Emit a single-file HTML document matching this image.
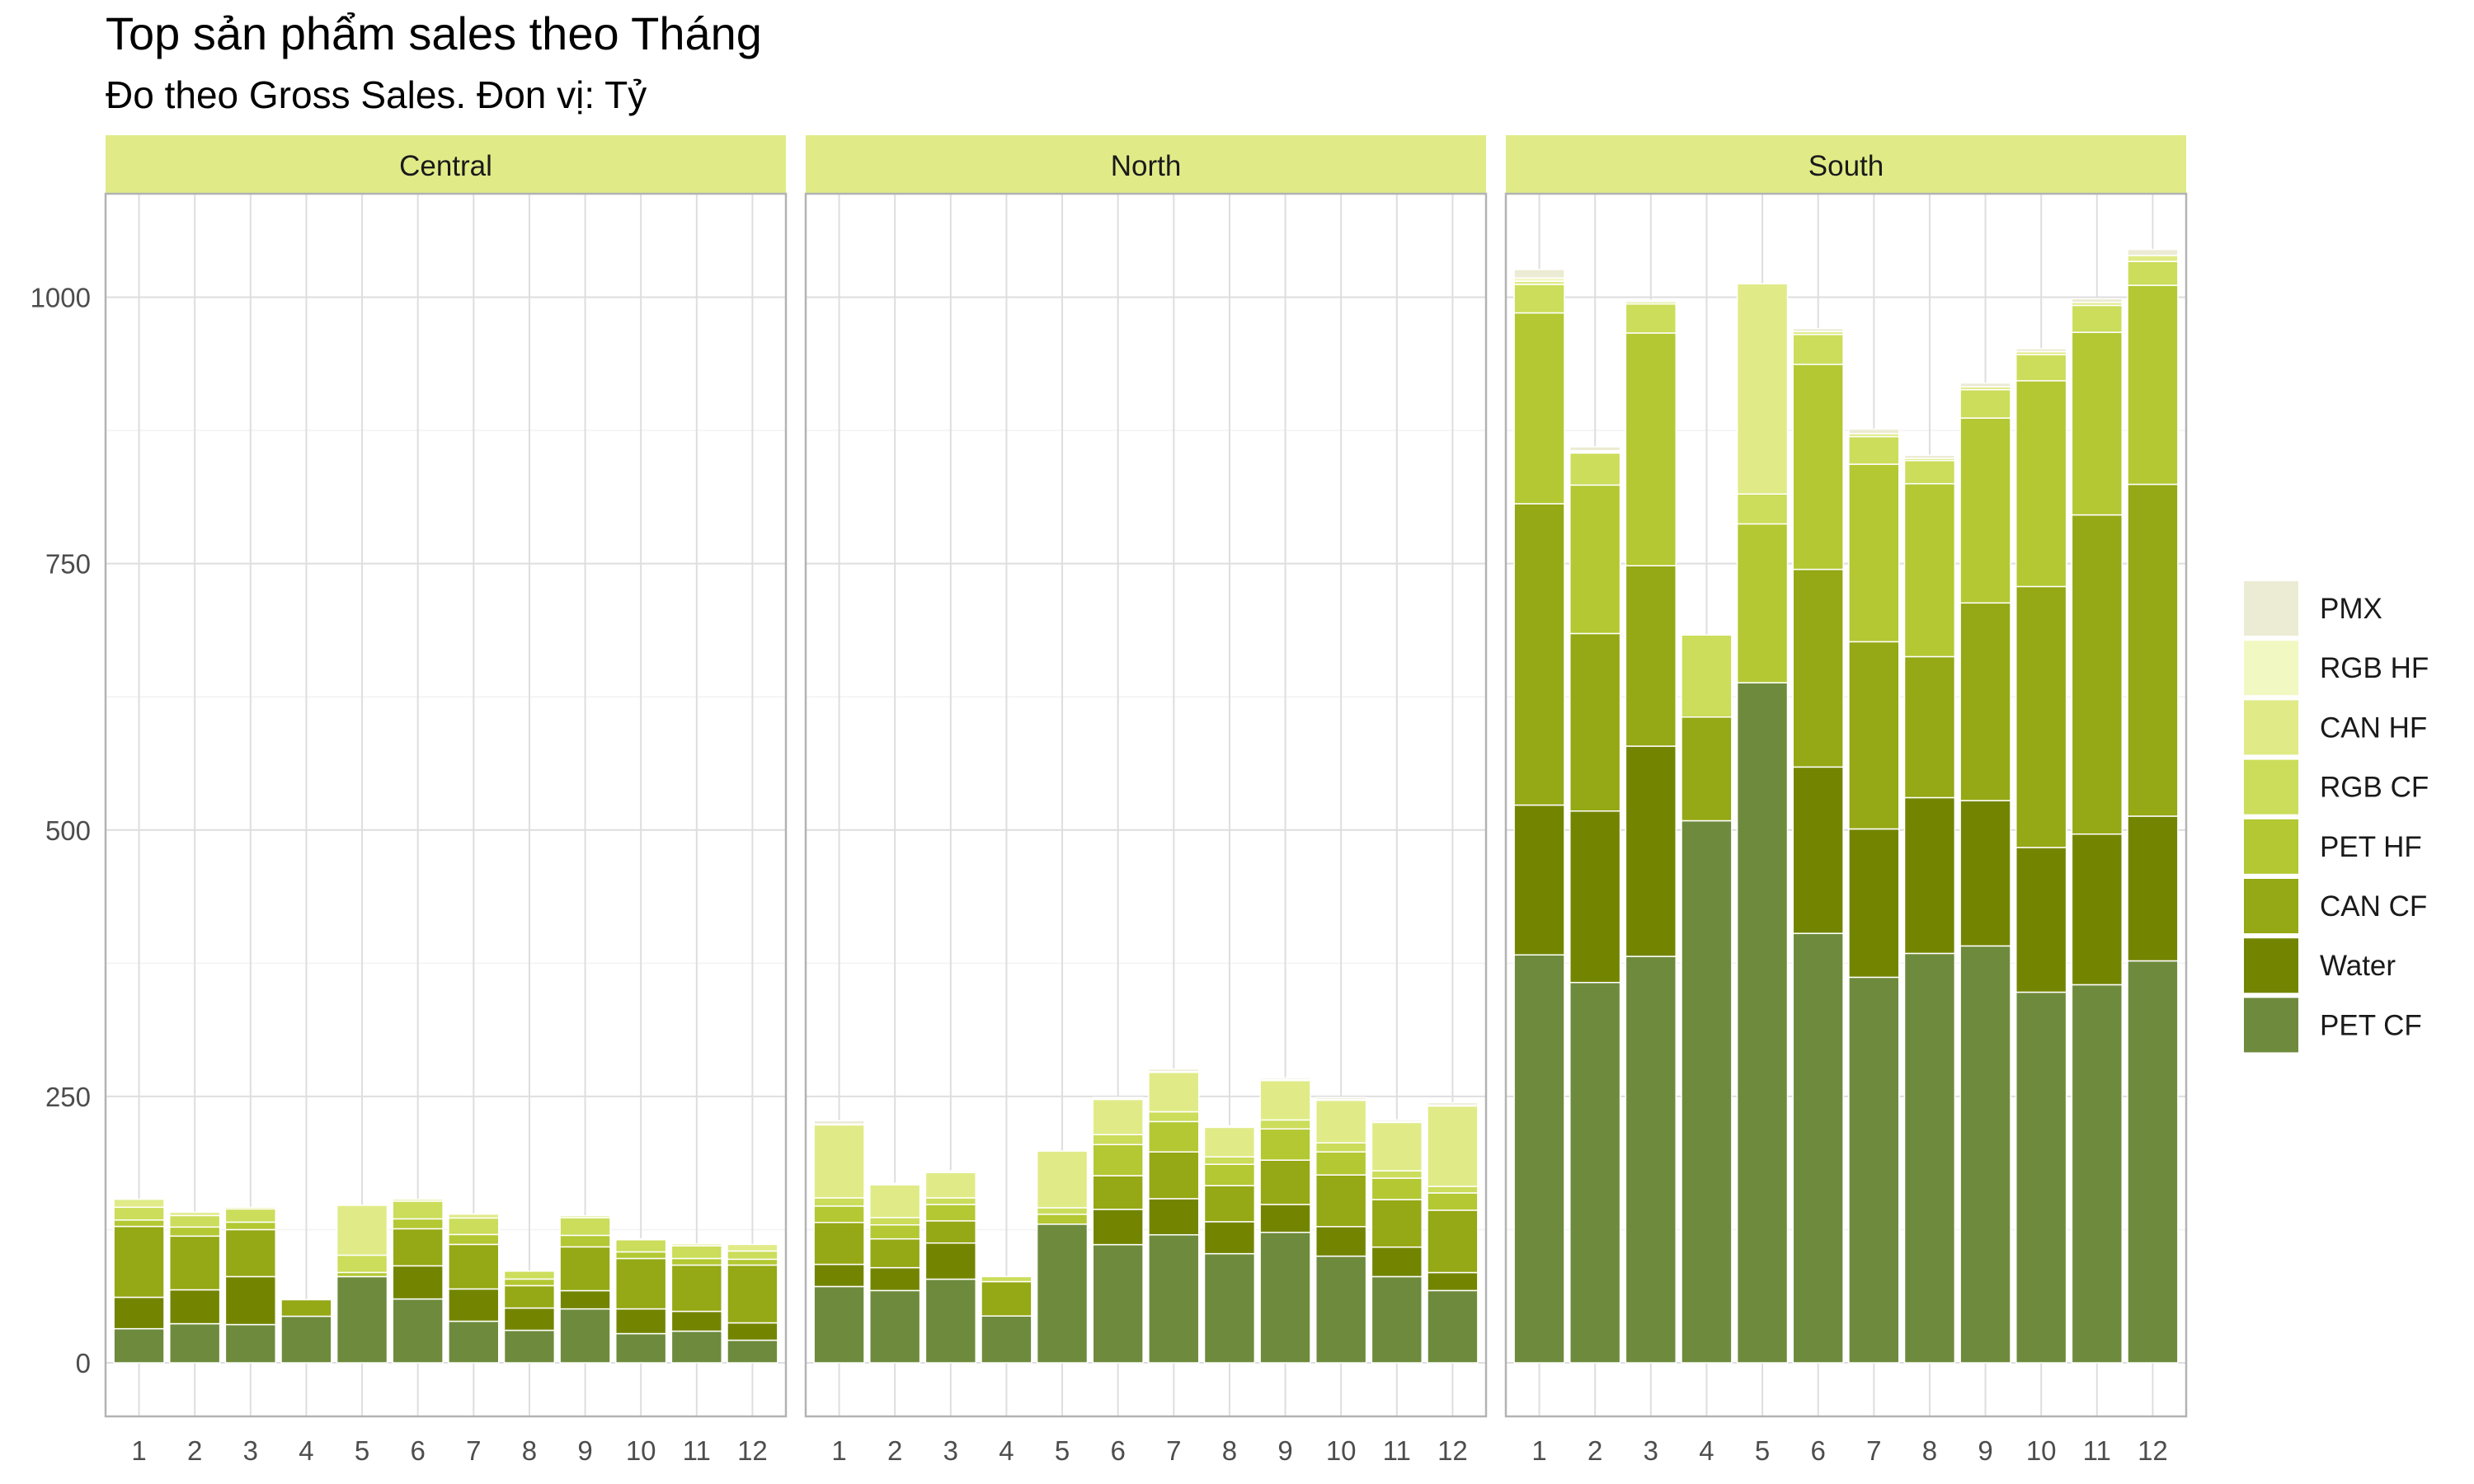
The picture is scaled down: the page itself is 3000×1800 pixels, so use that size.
<!DOCTYPE html>
<html><head><meta charset="utf-8"><style>
html,body{margin:0;padding:0;background:#fff;}
svg{display:block;font-family:"Liberation Sans","Noto Sans CJK SC",sans-serif;}
</style></head><body>
<svg id="chart" width="3000" height="1800" viewBox="0 0 3000 1800" xmlns="http://www.w3.org/2000/svg">
<text x="128" y="60" font-size="56" fill="#000">Top sản phẩm sales theo Tháng</text>
<text x="128" y="131" font-size="46" fill="#000">Đo theo Gross Sales. Đon vị: Tỷ</text>
<g id="panels"></g>
<g id="legend"></g>
</svg>
<script>
const months = ["1","2","3","4","5","6","7","8","9","10","11","12"];
const regions = ["Central","North","South"];
const seriesNames = ["PET CF","Water","CAN CF","PET HF","RGB CF","CAN HF","RGB HF","PMX"];
const yTicks = [0,250,500,750,1000];
const yMinor = [125,375,625,875];

const centralPETCF = [32,36.7,35.9,43.7,80.9,59.9,39,30.5,50.6,27.4,29.7,21.2];
const centralWater = [29.5,31.8,45,0,0,31.1,30.3,20.9,17.1,23.2,18.6,16.3];
const centralCANCF = [66.5,50.4,44.1,15.5,0,34.8,41.8,21,41.1,47.3,43.4,54.2];
const centralPETHF = [6,8.5,7,0,3.9,9.3,9.3,6.2,10.8,6.2,6.2,5.5];
const centralRGBCF = [12,10.8,12.4,0,16.2,16.6,15.5,7.4,16.6,11.4,11.9,7.7];
const centralCANHF = [7.5,3.1,1.6,0,46.8,1.8,3.6,0,1.8,0.8,1.8,6.2];
const centralRGBHF = [0,0,0,0,0,0,0,0,0,0,0,0];
const centralPMX = [0,0,0,0,0,0,0,0,0,0,0,0];

const northPETCF = [71.6,67.8,78.5,43.9,130.1,110.9,120.1,102.4,122.4,100.1,80.9,67.8];
const northWater = [20.8,21.5,33.9,0,0,33.1,33.9,30,26.2,27.7,27.7,16.9];
const northCANCF = [39.3,27,20.8,32.3,0,31.6,43.9,33.9,41.6,48.5,44.6,58.5];
const northPETHF = [15.4,13.1,15.4,0,9.3,29.2,28.5,20,29.3,21.6,20.1,16.2];
const northRGBCF = [7.7,6.9,6.2,4.7,6.1,9.3,9.2,7,8.4,8.5,6.9,6.2];
const northCANHF = [68.5,30.8,23.8,0,53.2,33.1,37,27.7,37,40,45.4,75.4];
const northRGBHF = [0.8,0.8,0.8,0,0,0.8,0.8,0.8,0.8,0.8,0.8,0.8];
const northPMX = [3.1,0.7,0.8,0,0,1,2.3,0.7,1.5,1.8,1.5,2.3];

const southPETCF = [382.8,356.9,381.4,508.7,638.2,403,361.8,384.2,391.2,347.8,354.8,377.2];
const southWater = [140.6,160.9,197.3,0,0,156.1,139.2,146.2,136.4,135.8,141.4,135.8];
const southCANCF = [282.8,166.6,169.3,97.3,0,185.5,175.7,132.3,185.5,244.9,299.5,311.4];
const southPETHF = [179.1,139.3,218.4,0,149.1,192.4,166.6,162.3,173.5,193.1,171.4,186.8];
const southRGBCF = [26.7,30.1,27.3,77,28,28,25.9,21.7,26.6,24.5,25.2,22.4];
const southCANHF = [3,1.2,2.1,0,197.3,2.8,2.8,2.1,2.8,2.8,2.8,5.6];
const southRGBHF = [3,1,0,0,0,0,0,0,0,0,0,0];
const southPMX = [8,3.6,1.4,0,0,2.8,4.2,2.9,3.5,2.8,3.5,5.6];

const regionData = [
  [centralPETCF,centralWater,centralCANCF,centralPETHF,centralRGBCF,centralCANHF,centralRGBHF,centralPMX],
  [northPETCF,northWater,northCANCF,northPETHF,northRGBCF,northCANHF,northRGBHF,northPMX],
  [southPETCF,southWater,southCANCF,southPETHF,southRGBCF,southCANHF,southRGBHF,southPMX]
];
const colors = ["#6e8b3d","#738500","#95a815","#b3c832","#cbdd5a","#e0eb87","#f2f8c2","#ecebd3"];

const NS = "http://www.w3.org/2000/svg";
const panelsG = document.getElementById("panels");
const panelLefts = [128,977,1826];
const panelW = 825;
const panelTop = 235, panelBot = 1718;
const stripTop = 164;
function yScale(v){ return 1653 - v*1.2925; }
function xScale(p, i){ return panelLefts[p] + (0.6 + i) * (panelW / 12.2); }
const bw = 0.9 * panelW / 12.2;

function mk(tag, attrs, parent){
  const e = document.createElementNS(NS, tag);
  for (const k in attrs) e.setAttribute(k, attrs[k]);
  parent.appendChild(e);
  return e;
}

regions.forEach((r, p) => {
  const g = mk("g", {}, panelsG);
  
  
  const L = panelLefts[p];
  const strip = mk("rect", {x:L, y:stripTop, width:panelW, height:panelTop-stripTop, fill:"#e0eb87"}, g);
  
  
  const st = mk("text", {x:L+panelW/2, y:213, "font-size":35, "text-anchor":"middle", fill:"#1a1a1a"}, g);
  st.textContent = r;
  
  
  yMinor.forEach(v => {
    const l = mk("line", {x1:L, x2:L+panelW, y1:yScale(v), y2:yScale(v), stroke:"#f2f2f2", "stroke-width":1.5}, g);
    
    
  });
  yTicks.forEach(v => {
    const l = mk("line", {x1:L, x2:L+panelW, y1:yScale(v), y2:yScale(v), stroke:"#dedede", "stroke-width":2}, g);
    
    
  });
  months.forEach((m, i) => {
    const l = mk("line", {x1:xScale(p,i), x2:xScale(p,i), y1:panelTop, y2:panelBot, stroke:"#dedede", "stroke-width":2}, g);
    
    
    const t = mk("text", {x:xScale(p,i), y:1771, "font-size":33, "text-anchor":"middle", fill:"#4d4d4d"}, g);
    t.textContent = m;
    
    
  });
  const data = regionData[p];
  months.forEach((m, i) => {
    let cum = 0;
    data.forEach((arr, s) => {
      const v = arr[i];
      if (v <= 0) return;
      const y1 = yScale(cum + v), y0 = yScale(cum);
      const rect = mk("rect", {x:xScale(p,i)-bw/2, y:y1, width:bw, height:y0-y1, fill:colors[s], stroke:"#ffffff", "stroke-width":1.5}, g);
      
      
      cum += v;
    });
  });
  const border = mk("rect", {x:L, y:panelTop, width:panelW, height:panelBot-panelTop, fill:"none", stroke:"#b3b3b3", "stroke-width":2.5}, g);
  
  
});

yTicks.forEach(v => {
  const t = mk("text", {x:110, y:yScale(v)+12, "font-size":33, "text-anchor":"end", fill:"#4d4d4d"}, panelsG);
  t.textContent = String(v);
  
  
});

const legendG = document.getElementById("legend");
const legendOrder = seriesNames.slice().reverse();
legendOrder.forEach((name, k) => {
  const s = seriesNames.indexOf(name);
  const y = 705 + k * 72.2;
  const r = mk("rect", {x:2721, y:y, width:66, height:66, fill:colors[s]}, legendG);
  
  
  const t = mk("text", {x:2813, y:y+45, "font-size":35, fill:"#1a1a1a"}, legendG);
  t.textContent = name;
  
  
});
</script>
</body></html>
